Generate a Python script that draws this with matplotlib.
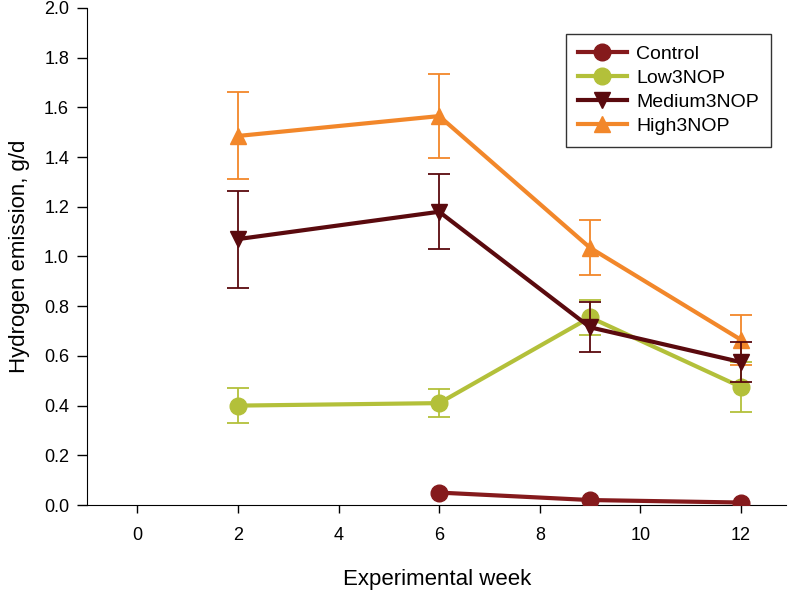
import matplotlib
matplotlib.use("Agg")
import matplotlib.pyplot as plt

plt.rcParams['font.family'] = ['Liberation Sans', 'DejaVu Sans']

weeks_control = [6, 9, 12]
control = [0.05, 0.02, 0.01]

weeks = [2, 6, 9, 12]
low = [0.40, 0.41, 0.755, 0.475]
low_err = [0.07, 0.055, 0.07, 0.10]
medium = [1.07, 1.18, 0.715, 0.575]
medium_err = [0.195, 0.15, 0.10, 0.08]
high = [1.485, 1.565, 1.035, 0.665]
high_err = [0.175, 0.17, 0.11, 0.10]

c_control = '#851a1c'
c_low = '#b3c03a'
c_med = '#5a0a0e'
c_high = '#f2872a'

fig = plt.figure(figsize=(7.99, 5.91), dpi=100)
ax = fig.add_axes([0.109, 0.1455, 0.875, 0.841])

lw = 3.0
ms = 12
eh = ax.errorbar(weeks, high, yerr=high_err, color=c_high, ecolor=c_high, elinewidth=1.3,
                 capsize=8, capthick=1.3, lw=lw, marker='^', ms=ms, zorder=3)
em = ax.errorbar(weeks, medium, yerr=medium_err, color=c_med, ecolor=c_med, elinewidth=1.3,
                 capsize=8, capthick=1.3, lw=lw, marker='v', ms=ms, zorder=4)
el = ax.errorbar(weeks, low, yerr=low_err, color=c_low, ecolor=c_low, elinewidth=1.3,
                 capsize=8, capthick=1.3, lw=lw, marker='o', ms=ms, zorder=2)
lc, = ax.plot(weeks_control, control, color=c_control, lw=lw, marker='o', ms=ms, zorder=5)

ax.set_xlim(-1, 12.9)
ax.set_ylim(0, 2.0)
ax.set_xticks([0, 2, 4, 6, 8, 10, 12])
ax.set_yticks([0.0, 0.2, 0.4, 0.6, 0.8, 1.0, 1.2, 1.4, 1.6, 1.8, 2.0])
ax.set_yticklabels([f'{v:.1f}' for v in ax.get_yticks()])
ax.spines['top'].set_visible(False)
ax.spines['right'].set_visible(False)
ax.tick_params(direction='out', length=7, width=1, labelsize=13)
ax.tick_params(axis='x', pad=10, length=6)
ax.tick_params(axis='y', pad=6)
ax.set_xlabel('Experimental week', fontsize=16, labelpad=18)
ax.set_ylabel('Hydrogen emission, g/d', fontsize=16, labelpad=10)

leg = ax.legend([lc, el[0], em[0], eh[0]], ['Control', 'Low3NOP', 'Medium3NOP', 'High3NOP'],
                loc='upper right', bbox_to_anchor=(0.978, 0.948), fontsize=14,
                frameon=True, fancybox=False, edgecolor='black', borderpad=0.6,
                handlelength=2.5, handletextpad=0.5, labelspacing=0.33, borderaxespad=0)
leg.get_frame().set_linewidth(1.0)

fig.savefig('out.png', dpi=100)
